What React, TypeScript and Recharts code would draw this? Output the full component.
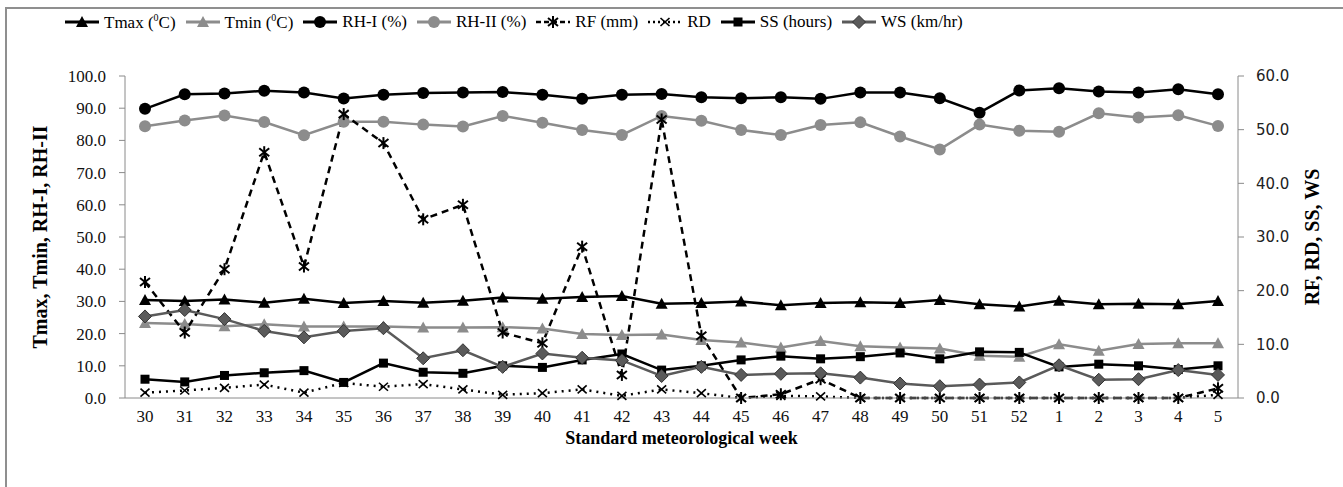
import { LineChart, Line, XAxis, YAxis, Label } from "recharts";

const weeks = ["30", "31", "32", "33", "34", "35", "36", "37", "38", "39", "40", "41", "42", "43", "44", "45", "46", "47", "48", "49", "50", "51", "52", "1", "2", "3", "4", "5"];

const tmax = [30.4, 30.1, 30.6, 29.6, 30.8, 29.5, 30.1, 29.6, 30.2, 31.2, 30.8, 31.4, 31.7, 29.3, 29.5, 30.0, 28.8, 29.5, 29.7, 29.5, 30.4, 29.1, 28.4, 30.2, 29.1, 29.3, 29.1, 30.1];
const tmin = [23.3, 23.0, 22.3, 22.9, 22.2, 22.2, 22.2, 21.9, 21.9, 22.0, 21.6, 19.9, 19.6, 19.7, 18.0, 17.2, 15.7, 17.7, 16.1, 15.7, 15.4, 13.1, 12.8, 16.7, 14.7, 16.8, 17.0, 17.0];
const rh1 = [89.8, 94.3, 94.6, 95.4, 94.9, 93.0, 94.2, 94.7, 94.9, 95.0, 94.2, 92.9, 94.2, 94.4, 93.4, 93.1, 93.4, 92.9, 94.9, 94.9, 93.1, 88.6, 95.5, 96.2, 95.2, 94.9, 95.9, 94.3];
const rh2 = [84.4, 86.2, 87.7, 85.7, 81.6, 85.8, 85.8, 84.9, 84.3, 87.6, 85.5, 83.2, 81.7, 87.6, 86.1, 83.2, 81.7, 84.8, 85.6, 81.2, 77.2, 84.9, 83.0, 82.7, 88.4, 87.1, 87.8, 84.5];
const rf = [21.6, 12.2, 24.0, 45.8, 24.5, 52.9, 47.5, 33.3, 36.0, 12.2, 10.2, 28.2, 4.3, 51.9, 11.6, 0.0, 0.7, 3.5, 0.0, 0.0, 0.0, 0.0, 0.0, 0.0, 0.0, 0.0, 0.0, 1.8];
const rd = [1.0, 1.4, 1.9, 2.5, 1.0, 2.8, 2.1, 2.6, 1.6, 0.6, 0.9, 1.6, 0.4, 1.6, 0.9, 0.0, 0.4, 0.3, 0.0, 0.0, 0.0, 0.0, 0.0, 0.0, 0.0, 0.0, 0.0, 0.6];
const ss = [3.5, 3.0, 4.2, 4.7, 5.1, 2.9, 6.5, 4.8, 4.6, 6.0, 5.7, 7.1, 8.2, 5.2, 6.0, 7.1, 7.8, 7.3, 7.7, 8.4, 7.3, 8.6, 8.5, 5.8, 6.3, 6.0, 5.3, 6.0];
const ws = [15.2, 16.4, 14.7, 12.5, 11.3, 12.5, 13.0, 7.4, 8.9, 5.8, 8.3, 7.5, 7.0, 4.1, 5.8, 4.3, 4.5, 4.6, 3.8, 2.7, 2.2, 2.5, 2.9, 6.1, 3.4, 3.5, 5.2, 4.3];

const leftTicks = [0, 10, 20, 30, 40, 50, 60, 70, 80, 90, 100];
const rightTicks = [0, 10, 20, 30, 40, 50, 60];

const data = weeks.map((w, i) => ({
  week: w,
  idx: i,
  tmax: tmax[i],
  tmin: tmin[i],
  rh1: rh1[i],
  rh2: rh2[i],
  rf: rf[i],
  rd: rd[i],
  ss: ss[i],
  ws: ws[i],
}));
// category boundaries for the Excel-style ticks between weeks
const edgeTicks = [...weeks.map((_, i) => i), weeks.length];

const BLACK = "#000000";
const GRAY = "#8c8c8c";
const DARK = "#5a5a5a";
const AXIS = "#8a8a8a";
const SERIF = "'Liberation Serif', 'Times New Roman', serif";

type Shape = "tri" | "circle" | "square" | "diamond" | "star" | "x";

function marker(shape: Shape, color: string, cx: number, cy: number, key?: number) {
  switch (shape) {
    case "tri":
      return <polygon key={key} points={`${cx},${cy - 6} ${cx - 6},${cy + 5} ${cx + 6},${cy + 5}`} fill={color} />;
    case "circle":
      return <circle key={key} cx={cx} cy={cy} r={6} fill={color} />;
    case "square":
      return <rect key={key} x={cx - 4.5} y={cy - 4.5} width={9} height={9} fill={color} />;
    case "diamond":
      return (
        <polygon
          key={key}
          points={`${cx},${cy - 6.5} ${cx + 6.5},${cy} ${cx},${cy + 6.5} ${cx - 6.5},${cy}`}
          fill={color}
          stroke="#333"
          strokeWidth={1}
        />
      );
    case "star":
      return (
        <g key={key} stroke={color} strokeWidth={2}>
          <line x1={cx} y1={cy - 6} x2={cx} y2={cy + 6} />
          <line x1={cx - 5} y1={cy - 4} x2={cx + 5} y2={cy + 4} />
          <line x1={cx - 5} y1={cy + 4} x2={cx + 5} y2={cy - 4} />
        </g>
      );
    case "x":
      return (
        <g key={key} stroke={color} strokeWidth={1.6}>
          <line x1={cx - 4.5} y1={cy - 4} x2={cx + 4.5} y2={cy + 4} />
          <line x1={cx - 4.5} y1={cy + 4} x2={cx + 4.5} y2={cy - 4} />
        </g>
      );
  }
}

const dot = (shape: Shape, color: string) => (p: any) => {
  if (p.cx == null || p.cy == null) return <g key={p.index} />;
  return marker(shape, color, p.cx, p.cy, p.index);
};

const legendItems: { label: React.ReactNode; color: string; shape: Shape; dash?: string; w: number }[] = [
  { label: <>Tmax (<sup style={{ fontSize: 10 }}>0</sup>C)</>, color: BLACK, shape: "tri", w: 3 },
  { label: <>Tmin (<sup style={{ fontSize: 10 }}>0</sup>C)</>, color: GRAY, shape: "tri", w: 3 },
  { label: "RH-I (%)", color: BLACK, shape: "circle", w: 3 },
  { label: "RH-II (%)", color: GRAY, shape: "circle", w: 3 },
  { label: "RF (mm)", color: BLACK, shape: "star", dash: "5 3", w: 2.5 },
  { label: "RD", color: BLACK, shape: "x", dash: "2 3", w: 2.5 },
  { label: "SS (hours)", color: BLACK, shape: "square", w: 3 },
  { label: "WS (km/hr)", color: DARK, shape: "diamond", w: 3 },
];

function ChartLegend() {
  return (
    <div
      style={{
        position: "absolute",
        left: 64,
        top: 12,
        display: "flex",
        alignItems: "center",
        fontFamily: SERIF,
        fontSize: 17,
        color: "#000",
        zIndex: 2,
      }}
    >
      {legendItems.map((it, i) => (
        <div key={i} style={{ display: "flex", alignItems: "center", marginRight: 9 }}>
          <svg width={36} height={14} style={{ marginRight: 4 }}>
            <line x1={1} y1={7} x2={35} y2={7} stroke={it.color} strokeWidth={it.w} strokeDasharray={it.dash} />
            {marker(it.shape, it.color, 18, 7)}
          </svg>
          <span style={{ whiteSpace: "nowrap" }}>{it.label}</span>
        </div>
      ))}
    </div>
  );
}

export default function App() {
  return (
    <div style={{ position: "absolute", left: 0, top: 0, width: 1343, height: 487, overflow: "hidden", background: "#fff" }}>
      <div
        style={{
          position: "absolute",
          left: 5,
          top: 7,
          width: 1350,
          height: 500,
          border: "2px solid #8f8f8f",
          boxSizing: "border-box",
        }}
      />
      <ChartLegend />
      <LineChart width={1343} height={480} data={data} margin={{ top: 76, right: 45, left: 65, bottom: 52 }}>
        <XAxis
          xAxisId="edge"
          dataKey="idx"
          type="number"
          domain={[0, weeks.length]}
          ticks={edgeTicks}
          height={1}
          tick={false}
          tickSize={6}
          axisLine={{ stroke: AXIS, strokeWidth: 1 }}
          tickLine={{ stroke: AXIS }}
          allowDataOverflow
        />
        <XAxis
          xAxisId="w"
          dataKey="week"
          height={29}
          padding={{ left: 20, right: 20 }}
          axisLine={false}
          tickLine={false}
          tickSize={6}
          tickMargin={5}
          interval={0}
          tick={{ fontFamily: SERIF, fontSize: 17, fill: "#111" }}
        >
          <Label
            value="Standard meteorological week"
            position="bottom"
            offset={3}
            style={{ fontFamily: SERIF, fontSize: 18, fontWeight: "bold", fill: "#000" }}
          />
        </XAxis>
        <YAxis
          yAxisId="l"
          width={60}
          domain={[0, 100]}
          ticks={leftTicks}
          interval={0}
          tickFormatter={(v: number) => v.toFixed(1)}
          axisLine={{ stroke: AXIS }}
          tickLine={{ stroke: AXIS }}
          tickSize={6}
          tickMargin={13}
          tick={{ fontFamily: SERIF, fontSize: 17, fill: "#111" }}
        >
          <Label
            value="Tmax, Tmin, RH-I, RH-II"
            angle={-90}
            position="center"
            dx={-55}
            style={{ fontFamily: SERIF, fontSize: 20, fontWeight: "bold", fill: "#000", textAnchor: "middle" }}
          />
        </YAxis>
        <YAxis
          yAxisId="r"
          orientation="right"
          width={60}
          domain={[0, 60]}
          ticks={rightTicks}
          interval={0}
          tickFormatter={(v: number) => v.toFixed(1)}
          axisLine={{ stroke: AXIS }}
          tickLine={{ stroke: AXIS }}
          tickSize={6}
          tickMargin={12}
          tick={{ fontFamily: "'DejaVu Sans', sans-serif", fontSize: 15, fill: "#222" }}
        >
          <Label
            value="RF, RD, SS, WS"
            angle={-90}
            position="center"
            dx={44}
            style={{ fontFamily: SERIF, fontSize: 20, fontWeight: "bold", fill: "#000", textAnchor: "middle" }}
          />
        </YAxis>

        <Line xAxisId="w" yAxisId="l" dataKey="tmax" stroke={BLACK} strokeWidth={2.5} dot={dot("tri", BLACK)} isAnimationActive={false} />
        <Line xAxisId="w" yAxisId="l" dataKey="tmin" stroke={GRAY} strokeWidth={2.5} dot={dot("tri", GRAY)} isAnimationActive={false} />
        <Line xAxisId="w" yAxisId="l" dataKey="rh1" stroke={BLACK} strokeWidth={2.5} dot={dot("circle", BLACK)} isAnimationActive={false} />
        <Line xAxisId="w" yAxisId="l" dataKey="rh2" stroke={GRAY} strokeWidth={2.5} dot={dot("circle", GRAY)} isAnimationActive={false} />
        <Line xAxisId="w" yAxisId="r" dataKey="rf" stroke={BLACK} strokeWidth={2.5} strokeDasharray="7 5" dot={dot("star", BLACK)} isAnimationActive={false} />
        <Line xAxisId="w" yAxisId="r" dataKey="rd" stroke={BLACK} strokeWidth={2.5} strokeDasharray="2 5" dot={dot("x", BLACK)} isAnimationActive={false} />
        <Line xAxisId="w" yAxisId="r" dataKey="ss" stroke={BLACK} strokeWidth={2.5} dot={dot("square", BLACK)} isAnimationActive={false} />
        <Line xAxisId="w" yAxisId="r" dataKey="ws" stroke={DARK} strokeWidth={2.5} dot={dot("diamond", DARK)} isAnimationActive={false} />
      </LineChart>
    </div>
  );
}
